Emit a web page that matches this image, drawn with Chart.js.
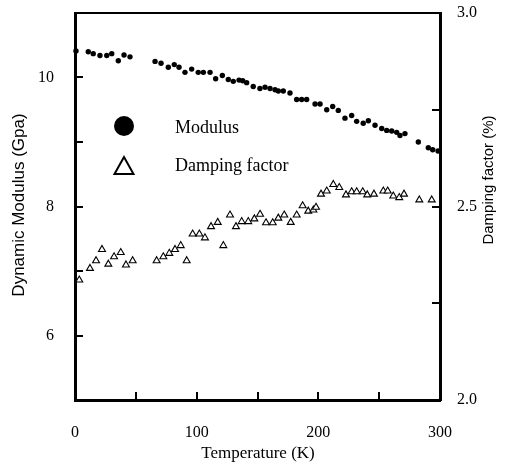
<!DOCTYPE html>
<html lang="en">
<head>
  <meta charset="UTF-8">
  <title>Dynamic Modulus and Damping factor</title>
  <script src="https://cdn.jsdelivr.net/npm/chart.js"></script>
  <style>
    body {
      margin: 0;
      background: #fff;
    }
    #wrap {
      width: 507px;
      height: 469px;
    }
  </style>
</head>
<body>
  <div id="wrap">
    <canvas id="dmaChart" width="507" height="469"></canvas>
  </div>

  <script>
    // Modulus (Gpa), filled circles, left axis
    const modTemp = [0.8, 10.9, 15.0, 20.5, 26.1, 30.2, 35.6, 40.3, 45.2, 65.8,
      70.7, 76.7, 81.6, 85.5, 90.4, 95.9, 101.3, 105.5, 111.0, 115.6,
      121.1, 126.0, 130.1, 134.8, 137.8, 141.1, 146.5, 152.0, 156.2, 160.3,
      164.4, 167.1, 171.2, 176.7, 182.2, 186.3, 190.4, 197.3, 201.4, 206.9,
      211.8, 216.4, 221.9, 227.4, 231.5, 236.9, 241.1, 246.6, 252.1, 256.2,
      260.3, 264.4, 267.1, 271.2, 282.2, 290.4, 294.0, 298.4];
    const modulus = [10.41, 10.40, 10.37, 10.34, 10.34, 10.37, 10.26, 10.35, 10.32, 10.25,
      10.22, 10.16, 10.20, 10.16, 10.08, 10.13, 10.08, 10.08, 10.08, 9.98,
      10.03, 9.97, 9.94, 9.96, 9.95, 9.92, 9.86, 9.83, 9.85, 9.83,
      9.81, 9.79, 9.79, 9.76, 9.66, 9.66, 9.66, 9.59, 9.59, 9.50,
      9.55, 9.49, 9.37, 9.41, 9.32, 9.29, 9.33, 9.26, 9.21, 9.18,
      9.17, 9.15, 9.10, 9.13, 9.00, 8.91, 8.88, 8.86];

    // Damping factor (%), open triangles, right axis
    const dampTemp = [3.5, 12.3, 17.3, 22.2, 27.4, 32.1, 37.6, 41.9, 47.4, 67.1,
      72.6, 77.5, 82.2, 86.9, 91.8, 96.7, 102.2, 106.8, 111.8, 117.3,
      121.9, 127.4, 132.3, 137.0, 142.4, 147.4, 152.1, 157.0, 162.5, 167.1,
      172.0, 177.3, 182.2, 187.1, 191.7, 195.9, 198.1, 202.2, 206.9, 212.3,
      217.2, 222.7, 227.4, 231.5, 236.5, 240.2, 245.7, 253.4, 257.0, 261.6,
      266.5, 270.4, 283.0, 293.2];
    const damping = [2.310, 2.340, 2.360, 2.389, 2.351, 2.370, 2.381, 2.349, 2.360, 2.360,
      2.370, 2.379, 2.389, 2.399, 2.360, 2.429, 2.429, 2.419, 2.448, 2.459,
      2.399, 2.478, 2.448, 2.461, 2.461, 2.468, 2.480, 2.458, 2.458, 2.470,
      2.478, 2.459, 2.478, 2.502, 2.488, 2.491, 2.498, 2.532, 2.540, 2.557,
      2.549, 2.530, 2.538, 2.538, 2.538, 2.530, 2.532, 2.540, 2.540, 2.527,
      2.523, 2.532, 2.517, 2.517];

    // tick labels
    const xLabels = [0, 100, 200, 300];
    const yLabels = [6, 8, 10];
    const y2Labels = [2.0, 2.5, 3.0];

    const serif = '"Liberation Serif", "Times New Roman", serif';
    const sans = '"Liberation Sans", Arial, sans-serif';

    function toPoints(xs, ys) {
      return xs.map((x, i) => ({ x: x, y: ys[i] }));
    }

    // inward tick marks, top frame line, titles and the legend box
    const decorations = {
      id: 'decorations',
      afterDraw(chart) {
        const ctx = chart.ctx;
        const area = chart.chartArea;
        const sx = chart.scales.x, sy = chart.scales.y, sy2 = chart.scales.y2;
        ctx.save();
        ctx.strokeStyle = '#000';
        ctx.lineWidth = 2;

        ctx.beginPath();
        ctx.moveTo(area.left - 1, area.top);
        ctx.lineTo(area.right + 1, area.top);
        ctx.stroke();

        ctx.beginPath();
        sx.ticks.forEach(t => {
          if (t.value <= sx.min || t.value >= sx.max) return;
          const px = Math.round(sx.getPixelForValue(t.value));
          ctx.moveTo(px, area.bottom);
          ctx.lineTo(px, area.bottom - 8);
        });
        sy.ticks.forEach(t => {
          if (t.value <= sy.min || t.value >= sy.max) return;
          const py = Math.round(sy.getPixelForValue(t.value));
          ctx.moveTo(area.left, py);
          ctx.lineTo(area.left + 8, py);
        });
        sy2.ticks.forEach(t => {
          if (t.value <= sy2.min || t.value >= sy2.max) return;
          const py = Math.round(sy2.getPixelForValue(t.value));
          ctx.moveTo(area.right, py);
          ctx.lineTo(area.right - 8, py);
        });
        ctx.stroke();

        // axis titles
        ctx.fillStyle = '#000';
        ctx.textAlign = 'center';
        ctx.textBaseline = 'alphabetic';
        ctx.font = '17px ' + serif;
        ctx.fillText('Temperature (K)', 258, 458);

        ctx.save();
        ctx.translate(24, 205);
        ctx.rotate(-Math.PI / 2);
        ctx.font = '17px ' + sans;
        ctx.fillText('Dynamic Modulus (Gpa)', 0, 0);
        ctx.restore();

        ctx.save();
        ctx.translate(493, 180);
        ctx.rotate(-Math.PI / 2);
        ctx.font = '15px ' + sans;
        ctx.fillText('Damping factor (%)', 0, 0);
        ctx.restore();

        // legend
        ctx.beginPath();
        ctx.arc(124, 126, 10, 0, Math.PI * 2);
        ctx.fill();

        ctx.beginPath();
        ctx.moveTo(124, 157);
        ctx.lineTo(114.5, 174);
        ctx.lineTo(133.5, 174);
        ctx.closePath();
        ctx.stroke();

        ctx.textAlign = 'left';
        ctx.font = '18px ' + serif;
        ctx.fillText('Modulus', 175, 133);
        ctx.fillText('Damping factor', 175, 171);
        ctx.restore();
      }
    };

    const ctx = document.getElementById('dmaChart').getContext('2d');
    const chart = new Chart(ctx, {
      type: 'scatter',
      data: {
        datasets: [{
          label: 'Modulus',
          data: toPoints(modTemp, modulus),
          yAxisID: 'y',
          pointStyle: 'circle',
          pointRadius: 2.7,
          backgroundColor: '#000',
          borderWidth: 0,
          clip: false
        }, {
          label: 'Damping factor',
          data: toPoints(dampTemp, damping),
          yAxisID: 'y2',
          pointStyle: 'triangle',
          pointRadius: 4,
          backgroundColor: '#fff',
          borderColor: '#000',
          borderWidth: 1.1,
          clip: false
        }]
      },
      options: {
        responsive: false,
        animation: false,
        events: [],
        layout: { padding: { top: 13, left: 0, right: 0, bottom: 0 } },
        plugins: {
          legend: { display: false },
          tooltip: { enabled: false }
        },
        scales: {
          x: {
            type: 'linear',
            min: 0,
            max: 300,
            grid: { display: false, drawTicks: false },
            border: { display: true, width: 3, color: '#000' },
            ticks: {
              stepSize: 50,
              autoSkip: false,
              maxRotation: 0,
              padding: 23,
              color: '#000',
              font: { family: serif, size: 16 },
              callback: v => xLabels.includes(v) ? String(v) : ''
            },
            afterFit: s => { s.height = 69; s.paddingLeft = 0; s.paddingRight = 0; }
          },
          y: {
            position: 'left',
            min: 5,
            max: 11,
            grid: { display: false, drawTicks: false },
            border: { display: true, width: 3, color: '#000' },
            ticks: {
              stepSize: 1,
              autoSkip: false,
              padding: 21,
              color: '#000',
              font: { family: serif, size: 16 },
              callback: v => yLabels.includes(v) ? String(v) : ''
            },
            afterFit: s => { s.width = 75; s.paddingTop = 0; s.paddingBottom = 0; }
          },
          y2: {
            position: 'right',
            min: 2,
            max: 3,
            grid: { display: false, drawTicks: false },
            border: { display: true, width: 3, color: '#000' },
            ticks: {
              stepSize: 0.25,
              autoSkip: false,
              padding: 17,
              color: '#000',
              font: { family: serif, size: 16 },
              callback: v => y2Labels.includes(v) ? v.toFixed(1) : ''
            },
            afterFit: s => { s.width = 67; s.paddingTop = 0; s.paddingBottom = 0; }
          }
        }
      },
      plugins: [decorations]
    });
  </script>
</body>
</html>
